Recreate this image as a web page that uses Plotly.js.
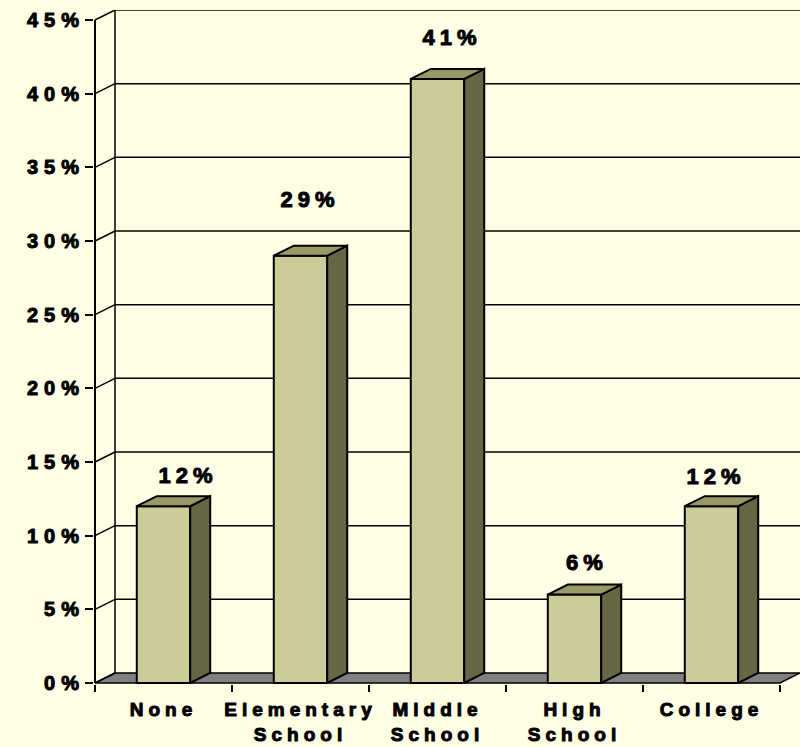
<!DOCTYPE html>
<html>
<head>
<meta charset="utf-8">
<script src="https://cdn.plot.ly/plotly-3.0.1.min.js"></script>
<style>
  html, body { margin: 0; padding: 0; background: #FFFFE5; }
  #chart { width: 800px; height: 747px; }
  #chart .ytick text, #chart .xtick text, #chart .annotation text {
    stroke: #000000; stroke-width: 1px; stroke-linejoin: round;
  }
  #chart .ytick text { letter-spacing: 6px; }
  #chart .xtick text { letter-spacing: 5px; }
  #chart .annotation text { letter-spacing: 5px; }
</style>
</head>
<body>
<div id="chart"></div>
<script>
// Share of respondents by level of schooling
const categories = ['None', 'Elementary<br>School', 'Middle<br>School', 'High<br>School', 'College'];
const shares = [12, 29, 41, 6, 12];
const yTickVals = [0, 5, 10, 15, 20, 25, 30, 35, 40, 45];

// value-label nudges in pixels: [right, up] from the top of each bar's front face
const labelNudge = [[24, 31], [9, 56], [14, 41], [12, 32], [4, 30]];

// palette
const FRONT = '#CCCC99', TOP = '#999966', SIDE = '#666644';
const FLOOR = '#808080', BG = '#FFFFE5', INK = '#000000';
const FONT = 'Liberation Sans, Arial, sans-serif';

// 3-D look: bars and back wall are pushed back by DX categories / DY percent
const BAR_W = 0.39;
const DX = 0.146;
const DY = 0.679;
const YMAX = 45;
const EX = 0.0073, EY = 0.068;     // small gutters so edge lines are not clipped

const xs = categories.map((_, i) => i);
const xL = -0.5, xR = categories.length - 0.5;

const pt = (x, y) => x + ',' + y;
const poly = pts => 'M ' + pts.map(p => pt(p[0], p[1])).join(' L ') + ' Z';
const bold = s => s.split('<br>').map(part => '<b>' + part + '</b>').join('<br>');

const shapes = [];

// floor
shapes.push({
  type: 'path', xref: 'x', yref: 'y', layer: 'below',
  path: poly([[xL, 0], [xR, 0], [xR + DX, DY], [xL + DX, DY]]),
  fillcolor: FLOOR, line: { color: INK, width: 1.5 }
});

// back-wall gridlines and the matching side-wall diagonals
yTickVals.forEach(v => {
  if (v > 0) {
    shapes.push({
      type: 'line', xref: 'x', yref: 'y', layer: 'below',
      x0: xL + DX, y0: v + DY, x1: xR + DX + 1, y1: v + DY,
      line: { color: INK, width: 1.5 }
    });
  }
  shapes.push({
    type: 'line', xref: 'x', yref: 'y', layer: 'below',
    x0: xL, y0: v, x1: xL + DX, y1: v + DY,
    line: { color: INK, width: 1.5 }
  });
});

// back vertical edge and front value axis
shapes.push({
  type: 'line', xref: 'x', yref: 'y', layer: 'below',
  x0: xL + DX, y0: DY, x1: xL + DX, y1: YMAX + DY,
  line: { color: INK, width: 1.5 }
});
shapes.push({
  type: 'line', xref: 'x', yref: 'y', layer: 'above',
  x0: xL, y0: 0, x1: xL, y1: YMAX,
  line: { color: INK, width: 2 }
});

// bar tops and right-hand sides
xs.forEach((x, i) => {
  const v = shares[i];
  const l = x - BAR_W / 2, r = x + BAR_W / 2;
  shapes.push({
    type: 'path', xref: 'x', yref: 'y', layer: 'above',
    path: poly([[r, 0], [r + DX, DY], [r + DX, v + DY], [r, v]]),
    fillcolor: SIDE, line: { color: INK, width: 2 }
  });
  shapes.push({
    type: 'path', xref: 'x', yref: 'y', layer: 'above',
    path: poly([[l, v], [l + DX, v + DY], [r + DX, v + DY], [r, v]]),
    fillcolor: TOP, line: { color: INK, width: 2 }
  });
});

// value labels
const annotations = xs.map((x, i) => ({
  xref: 'x', yref: 'y', x: x, y: shares[i],
  text: bold(shares[i] + '%'), showarrow: false,
  xanchor: 'center', yanchor: 'middle',
  xshift: labelNudge[i][0], yshift: labelNudge[i][1],
  font: { family: FONT, size: 22, weight: 'bold', color: INK }
}));

const bars = {
  type: 'bar', x: xs, y: shares, width: BAR_W,
  marker: { color: FRONT, line: { color: INK, width: 2 } },
  hoverinfo: 'skip'
};

const boundaries = [];
for (let b = xL; b <= xR + 1e-9; b += 1) boundaries.push(b);

const layout = {
  width: 800, height: 747,
  margin: { l: 94, r: 0, t: 10, b: 63 },
  paper_bgcolor: BG, plot_bgcolor: 'rgba(0,0,0,0)',
  showlegend: false,
  font: { family: FONT, size: 19, weight: 'bold', color: INK },
  xaxis: {
    range: [xL - EX, xR + DX],
    tickmode: 'array', tickvals: xs, ticktext: categories.map(bold),
    ticks: '', showgrid: false, zeroline: false, showline: false,
    tickfont: { family: FONT, size: 19, weight: 'bold', color: INK },
    ticklabelstandoff: 12,
    minor: {
      tickmode: 'array', tickvals: boundaries,
      ticks: 'outside', ticklen: 7, tickwidth: 2, tickcolor: INK, showgrid: false
    }
  },
  yaxis: {
    range: [-EY, YMAX + DY],
    tickmode: 'array', tickvals: yTickVals, ticktext: yTickVals.map(v => bold(v + '%')),
    ticks: 'outside', ticklen: 8, tickwidth: 2, tickcolor: INK,
    showgrid: false, zeroline: false, showline: false,
    ticklabelstandoff: -4,
    tickfont: { family: FONT, size: 20, weight: 'bold', color: INK }
  },
  bargap: 0,
  shapes: shapes,
  annotations: annotations
};

Plotly.newPlot('chart', [bars], layout, { displayModeBar: false, staticPlot: true });
</script>
</body>
</html>
